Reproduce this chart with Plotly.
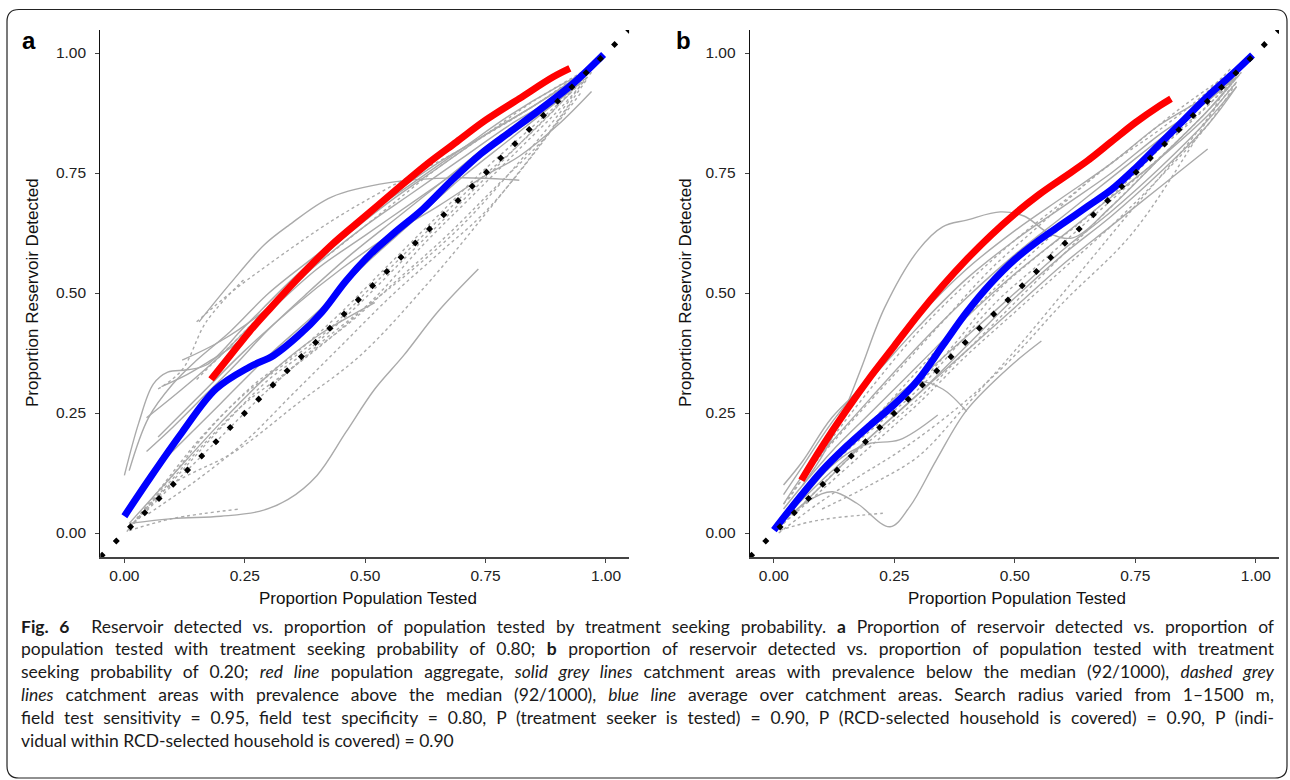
import plotly.graph_objects as go

# ---------------- data ----------------
TICK_VALS = [0.0, 0.25, 0.5, 0.75, 1.0]
TICK_TEXT = ["0.00", "0.25", "0.50", "0.75", "1.00"]
DIAG = [-0.05, 1.05]

# Panel a (treatment seeking probability 0.80)
A_RED_X = [0.18, 0.22, 0.26, 0.30, 0.36, 0.43, 0.50, 0.57, 0.63, 0.69, 0.75, 0.82, 0.89, 0.925]
A_RED_Y = [0.32, 0.37, 0.42, 0.465, 0.53, 0.60, 0.66, 0.72, 0.77, 0.815, 0.86, 0.905, 0.95, 0.968]
A_BLUE_X = [0.0, 0.05, 0.12, 0.19, 0.26, 0.31, 0.36, 0.41, 0.46, 0.51, 0.56, 0.62, 0.68, 0.74, 0.80, 0.86, 0.93, 0.995]
A_BLUE_Y = [0.035, 0.11, 0.21, 0.30, 0.346, 0.37, 0.41, 0.46, 0.525, 0.58, 0.625, 0.675, 0.735, 0.79, 0.835, 0.88, 0.935, 0.997]

A_SOLID = [
    ([0.01, 0.10, 0.20, 0.28, 0.34, 0.40, 0.46, 0.52, 0.58, 0.65, 0.735], [0.02, 0.03, 0.035, 0.045, 0.07, 0.12, 0.21, 0.30, 0.37, 0.46, 0.55]),
    ([0.01, 0.10, 0.20, 0.30, 0.40, 0.52], [0.02, 0.12, 0.23, 0.33, 0.41, 0.48]),
    ([0.0, 0.03, 0.06, 0.09, 0.13, 0.17, 0.25, 0.35, 0.45, 0.55, 0.65, 0.75, 0.85, 0.93], [0.12, 0.23, 0.31, 0.335, 0.34, 0.35, 0.43, 0.53, 0.62, 0.70, 0.77, 0.83, 0.89, 0.94]),
    ([0.01, 0.05, 0.10, 0.15, 0.22, 0.30, 0.40, 0.50, 0.60, 0.70, 0.80, 0.90, 0.96], [0.13, 0.24, 0.31, 0.36, 0.42, 0.50, 0.58, 0.66, 0.73, 0.80, 0.87, 0.93, 0.96]),
    ([0.155, 0.22, 0.29, 0.34, 0.43, 0.55, 0.69, 0.82], [0.44, 0.52, 0.60, 0.64, 0.70, 0.73, 0.74, 0.735]),
    ([0.046, 0.12, 0.20, 0.28, 0.365, 0.45, 0.55, 0.65, 0.75, 0.85, 0.94], [0.24, 0.30, 0.37, 0.45, 0.53, 0.61, 0.69, 0.76, 0.83, 0.89, 0.95]),
    ([0.046, 0.10, 0.17, 0.23, 0.295, 0.38, 0.47, 0.57, 0.67, 0.77, 0.87, 0.95], [0.17, 0.22, 0.29, 0.35, 0.42, 0.50, 0.58, 0.66, 0.74, 0.82, 0.89, 0.95]),
    ([0.077, 0.13, 0.18, 0.226, 0.30, 0.40, 0.50, 0.60, 0.70, 0.80, 0.90, 0.96], [0.305, 0.33, 0.36, 0.39, 0.46, 0.55, 0.62, 0.69, 0.76, 0.83, 0.90, 0.955]),
    ([0.07, 0.15, 0.25, 0.35, 0.45, 0.55, 0.65, 0.75, 0.82, 0.90, 0.97], [0.20, 0.28, 0.38, 0.47, 0.55, 0.62, 0.68, 0.745, 0.785, 0.85, 0.92]),
    ([0.12, 0.20, 0.30, 0.40, 0.50, 0.60, 0.70, 0.80, 0.90, 0.96], [0.36, 0.40, 0.47, 0.56, 0.64, 0.71, 0.78, 0.85, 0.91, 0.955]),
    ([0.06, 0.12, 0.20, 0.30, 0.40, 0.50, 0.60, 0.70, 0.80, 0.90, 0.95], [0.13, 0.19, 0.27, 0.37, 0.46, 0.56, 0.65, 0.74, 0.82, 0.90, 0.94]),
]
A_DASHED = [
    ([0.005, 0.09, 0.23, 0.36, 0.49, 0.63, 0.75, 0.86, 0.96], [0.003, 0.095, 0.17, 0.27, 0.37, 0.52, 0.665, 0.805, 0.945]),
    ([0.01, 0.10, 0.24], [0.005, 0.03, 0.05]),
    ([0.01, 0.08, 0.16, 0.25, 0.33, 0.42, 0.52, 0.62, 0.72, 0.82, 0.91, 0.97], [0.01, 0.09, 0.18, 0.27, 0.33, 0.40, 0.49, 0.60, 0.70, 0.80, 0.89, 0.96]),
    ([0.01, 0.08, 0.16, 0.25, 0.33, 0.42, 0.52, 0.62, 0.72, 0.82, 0.91, 0.97], [0.01, 0.10, 0.20, 0.29, 0.35, 0.42, 0.52, 0.62, 0.72, 0.81, 0.90, 0.97]),
    ([0.02, 0.10, 0.18, 0.27, 0.35, 0.44, 0.54, 0.64, 0.74, 0.84, 0.93], [0.02, 0.12, 0.22, 0.31, 0.37, 0.45, 0.55, 0.65, 0.75, 0.84, 0.92]),
    ([0.02, 0.10, 0.20, 0.30, 0.38, 0.47, 0.57, 0.67, 0.77, 0.87, 0.95], [0.02, 0.10, 0.20, 0.30, 0.37, 0.44, 0.53, 0.62, 0.72, 0.82, 0.92]),
    ([0.03, 0.12, 0.22, 0.30, 0.38, 0.48, 0.58, 0.68, 0.78, 0.88, 0.96], [0.03, 0.13, 0.24, 0.32, 0.38, 0.47, 0.57, 0.67, 0.77, 0.87, 0.95]),
    ([0.05, 0.15, 0.25, 0.35, 0.45, 0.55, 0.65, 0.75, 0.85, 0.93], [0.04, 0.11, 0.19, 0.29, 0.39, 0.49, 0.58, 0.67, 0.79, 0.90]),
    ([0.15, 0.22, 0.30, 0.43, 0.55, 0.70, 0.85, 0.95], [0.44, 0.50, 0.56, 0.65, 0.72, 0.80, 0.89, 0.96]),
    ([0.07, 0.12, 0.17, 0.25], [0.30, 0.34, 0.44, 0.53]),
    ([0.15, 0.25, 0.35, 0.45, 0.55, 0.65, 0.75, 0.85, 0.95], [0.32, 0.42, 0.52, 0.60, 0.68, 0.76, 0.83, 0.90, 0.96]),
    ([0.30, 0.40, 0.50, 0.60, 0.70, 0.80, 0.90, 0.96], [0.30, 0.39, 0.47, 0.55, 0.64, 0.75, 0.87, 0.95]),
]

# Panel b (treatment seeking probability 0.20)
B_RED_X = [0.057, 0.10, 0.15, 0.20, 0.25, 0.30, 0.35, 0.40, 0.45, 0.50, 0.55, 0.60, 0.65, 0.70, 0.75, 0.80, 0.824]
B_RED_Y = [0.11, 0.18, 0.255, 0.325, 0.39, 0.455, 0.515, 0.57, 0.62, 0.665, 0.705, 0.74, 0.775, 0.815, 0.855, 0.89, 0.905]
B_BLUE_X = [0.0, 0.05, 0.10, 0.15, 0.20, 0.25, 0.30, 0.35, 0.40, 0.45, 0.50, 0.55, 0.60, 0.65, 0.70, 0.75, 0.80, 0.85, 0.90, 0.95, 0.993]
B_BLUE_Y = [0.006, 0.07, 0.13, 0.18, 0.225, 0.268, 0.32, 0.39, 0.46, 0.52, 0.57, 0.61, 0.645, 0.68, 0.715, 0.76, 0.81, 0.86, 0.91, 0.955, 0.996]

B_SOLID = [
    ([0.06, 0.10, 0.14, 0.18, 0.23, 0.30, 0.35, 0.40, 0.47, 0.52, 0.57, 0.62, 0.70, 0.80, 0.90, 0.96], [0.10, 0.16, 0.24, 0.34, 0.47, 0.59, 0.638, 0.652, 0.669, 0.66, 0.625, 0.615, 0.68, 0.78, 0.88, 0.95]),
    ([0.006, 0.075, 0.122, 0.172, 0.241, 0.282, 0.337, 0.40, 0.49, 0.555], [0.013, 0.069, 0.086, 0.062, 0.013, 0.055, 0.152, 0.256, 0.347, 0.40]),
    ([0.03, 0.08, 0.12, 0.16, 0.20, 0.26, 0.34], [0.04, 0.10, 0.14, 0.17, 0.187, 0.194, 0.246]),
    ([0.03, 0.10, 0.16, 0.22, 0.26, 0.30, 0.35, 0.40], [0.04, 0.12, 0.19, 0.25, 0.29, 0.315, 0.30, 0.253]),
    ([0.02, 0.10, 0.20, 0.30, 0.40, 0.50, 0.60, 0.70, 0.80, 0.90], [0.03, 0.11, 0.20, 0.29, 0.38, 0.47, 0.56, 0.64, 0.72, 0.80]),
    ([0.02, 0.06, 0.12, 0.20, 0.30, 0.40, 0.50, 0.60, 0.70, 0.80, 0.90, 0.96], [0.06, 0.12, 0.19, 0.28, 0.39, 0.49, 0.58, 0.66, 0.74, 0.82, 0.90, 0.95]),
    ([0.02, 0.06, 0.12, 0.20, 0.30, 0.40, 0.50, 0.60, 0.70, 0.80, 0.90, 0.96], [0.08, 0.14, 0.23, 0.33, 0.45, 0.55, 0.63, 0.70, 0.77, 0.85, 0.91, 0.95]),
    ([0.02, 0.06, 0.12, 0.20, 0.30, 0.40, 0.50, 0.60, 0.70, 0.80, 0.90, 0.96], [0.10, 0.15, 0.24, 0.32, 0.43, 0.53, 0.61, 0.68, 0.75, 0.83, 0.90, 0.96]),
    ([0.02, 0.06, 0.12, 0.20, 0.30, 0.40, 0.50, 0.60, 0.70, 0.80, 0.90, 0.96], [0.05, 0.10, 0.17, 0.25, 0.35, 0.45, 0.54, 0.62, 0.70, 0.78, 0.87, 0.94]),
    ([0.02, 0.06, 0.12, 0.20, 0.30, 0.40, 0.50, 0.60, 0.70, 0.80, 0.90, 0.96], [0.04, 0.09, 0.15, 0.23, 0.32, 0.41, 0.50, 0.59, 0.67, 0.76, 0.86, 0.93]),
    ([0.05, 0.12, 0.20, 0.30, 0.40, 0.50, 0.60, 0.70, 0.80, 0.90, 0.96], [0.05, 0.12, 0.20, 0.29, 0.39, 0.49, 0.58, 0.66, 0.75, 0.85, 0.93]),
]
B_DASHED = [
    ([0.013, 0.07, 0.122, 0.18, 0.226], [0.006, 0.022, 0.031, 0.037, 0.041]),
    ([0.01, 0.09, 0.18, 0.26, 0.38, 0.49, 0.60, 0.74, 0.85, 0.945], [0.0, 0.06, 0.12, 0.17, 0.26, 0.36, 0.48, 0.62, 0.78, 0.94]),
    ([0.10, 0.20, 0.30, 0.39, 0.50, 0.60, 0.74, 0.85, 0.95], [0.05, 0.10, 0.16, 0.256, 0.38, 0.50, 0.67, 0.80, 0.93]),
    ([0.03, 0.10, 0.20, 0.30, 0.40, 0.50, 0.60, 0.70, 0.80, 0.90, 0.95], [0.07, 0.17, 0.30, 0.42, 0.52, 0.61, 0.69, 0.77, 0.84, 0.92, 0.97]),
    ([0.01, 0.08, 0.15, 0.22, 0.30, 0.38, 0.46, 0.55, 0.64, 0.73, 0.82, 0.91, 0.97], [0.01, 0.08, 0.15, 0.21, 0.28, 0.36, 0.44, 0.53, 0.62, 0.71, 0.80, 0.89, 0.96]),
    ([0.01, 0.08, 0.15, 0.22, 0.30, 0.38, 0.46, 0.55, 0.64, 0.73, 0.82, 0.91, 0.97], [0.02, 0.10, 0.17, 0.23, 0.30, 0.39, 0.48, 0.56, 0.64, 0.72, 0.80, 0.89, 0.96]),
    ([0.02, 0.08, 0.15, 0.22, 0.30, 0.38, 0.46, 0.55, 0.64, 0.73, 0.82, 0.91, 0.96], [0.03, 0.11, 0.18, 0.24, 0.31, 0.40, 0.50, 0.58, 0.65, 0.73, 0.82, 0.90, 0.95]),
    ([0.02, 0.10, 0.20, 0.30, 0.40, 0.50, 0.60, 0.70, 0.80, 0.90, 0.96], [0.02, 0.09, 0.18, 0.27, 0.37, 0.46, 0.55, 0.64, 0.74, 0.85, 0.94]),
    ([0.03, 0.10, 0.20, 0.30, 0.40, 0.50, 0.60, 0.70, 0.80, 0.90, 0.97], [0.05, 0.13, 0.23, 0.34, 0.45, 0.55, 0.64, 0.72, 0.80, 0.89, 0.97]),
    ([0.02, 0.08, 0.15, 0.25, 0.35, 0.45, 0.55, 0.65, 0.75, 0.85, 0.95], [0.06, 0.14, 0.22, 0.33, 0.44, 0.55, 0.64, 0.73, 0.81, 0.89, 0.96]),
]

CAPTION = [
    "<b>Fig. 6</b>\u00a0\u00a0Reservoir detected vs. proportion of population tested by treatment seeking probability. <b>a</b> Proportion of reservoir detected vs. proportion of",
    "population tested with treatment seeking probability of 0.80; <b>b</b> proportion of reservoir detected vs. proportion of population tested with treatment",
    "seeking probability of 0.20; <i>red line</i> population aggregate, <i>solid grey lines</i> catchment areas with prevalence below the median (92/1000), <i>dashed grey</i>",
    "<i>lines</i> catchment areas with prevalence above the median (92/1000), <i>blue line</i> average over catchment areas. Search radius varied from 1\u20131500 m,",
    "field test sensitivity = 0.95, field test specificity = 0.80, P (treatment seeker is tested) = 0.90, P (RCD-selected household is covered) = 0.90, P (indi-",
    "vidual within RCD-selected household is covered) = 0.90",
]

# ---------------- figure ----------------
W, H = 1290, 780
GREY = "#aaaaaa"
fig = go.Figure()


def px_x(p):
    return p / W


def px_y(p):
    return 1 - p / H


def add_panel(xa, ya, solid, dashed, rx, ry, bx, by):
    for xs, ys in solid:
        fig.add_trace(go.Scatter(x=xs, y=ys, mode="lines", xaxis=xa, yaxis=ya,
                                 line=dict(color=GREY, width=1.4, shape="spline", smoothing=1.0),
                                 showlegend=False, hoverinfo="skip"))
    for xs, ys in dashed:
        fig.add_trace(go.Scatter(x=xs, y=ys, mode="lines", xaxis=xa, yaxis=ya,
                                 line=dict(color=GREY, width=1.4, dash="3px,3px", shape="spline", smoothing=1.0),
                                 showlegend=False, hoverinfo="skip"))
    fig.add_trace(go.Scatter(x=rx, y=ry, mode="lines", xaxis=xa, yaxis=ya,
                             line=dict(color="#ff0000", width=7, shape="spline", smoothing=1.0),
                             showlegend=False, hoverinfo="skip"))
    fig.add_trace(go.Scatter(x=bx, y=by, mode="lines", xaxis=xa, yaxis=ya,
                             line=dict(color="#0000ff", width=7, shape="spline", smoothing=1.0),
                             showlegend=False, hoverinfo="skip"))
    fig.add_trace(go.Scatter(x=DIAG, y=DIAG, mode="lines", xaxis=xa, yaxis=ya,
                             line=dict(color="#000000", width=5, dash="5px,15.1px"),
                             showlegend=False, hoverinfo="skip"))


add_panel("x", "y", A_SOLID, A_DASHED, A_RED_X, A_RED_Y, A_BLUE_X, A_BLUE_Y)
add_panel("x2", "y2", B_SOLID, B_DASHED, B_RED_X, B_RED_Y, B_BLUE_X, B_BLUE_Y)

TICKFONT = dict(family="Liberation Sans, Arial, sans-serif", size=15.5, color="#222222")
common_x = dict(range=[-0.05, 1.048], tickvals=TICK_VALS, ticktext=TICK_TEXT, showgrid=False,
                zeroline=False, showline=True, linecolor="#444444", linewidth=1.6, ticks="outside",
                ticklen=4, tickwidth=1, tickcolor="#444444", tickfont=TICKFONT)
common_y = dict(range=[-0.05, 1.048], tickvals=TICK_VALS, ticktext=TICK_TEXT, showgrid=False,
                zeroline=False, showline=True, linecolor="#111111", linewidth=1.2, ticks="outside",
                ticklen=4, tickwidth=1, tickcolor="#444444", tickfont=TICKFONT, ticklabelstandoff=6)

YDOM = [(H - 557) / H, (H - 30) / H]
fig.update_layout(
    width=W, height=H, margin=dict(l=0, r=0, t=0, b=0),
    paper_bgcolor="white", plot_bgcolor="white",
    xaxis=dict(domain=[100.3 / W, 629.1 / W], anchor="y", **common_x),
    yaxis=dict(domain=YDOM, anchor="x", **common_y),
    xaxis2=dict(domain=[749.8 / W, 1279.0 / W], anchor="y2", **common_x),
    yaxis2=dict(domain=YDOM, anchor="x2", **common_y),
)

TITLEFONT = dict(family="Liberation Sans, Arial, sans-serif", size=17, color="#111111")
ann = []
for cx, letter, ycx in [(368, "a", 32), (1017, "b", 685)]:
    ann.append(dict(x=px_x(cx), y=px_y(598), xref="paper", yref="paper", text="Proportion Population Tested",
                    showarrow=False, font=TITLEFONT, xanchor="center", yanchor="middle"))
    ann.append(dict(x=px_x(ycx), y=px_y(293), xref="paper", yref="paper", text="Proportion Reservoir Detected",
                    showarrow=False, font=TITLEFONT, textangle=-90, xanchor="center", yanchor="middle"))
ann.append(dict(x=px_x(29), y=px_y(40), xref="paper", yref="paper", text="<b>a</b>", showarrow=False,
                font=dict(family="Liberation Sans, Arial, sans-serif", size=24, color="#000000"),
                xanchor="center", yanchor="middle"))
ann.append(dict(x=px_x(683), y=px_y(40), xref="paper", yref="paper", text="<b>b</b>", showarrow=False,
                font=dict(family="Liberation Sans, Arial, sans-serif", size=24, color="#000000"),
                xanchor="center", yanchor="middle"))
CAP_START = len(ann)
CAPFONT = dict(family="Lato, sans-serif", size=17.5, color="#1a1a1a")
for i, line in enumerate(CAPTION):
    ann.append(dict(x=px_x(19), y=px_y(626 + 22.8 * i), xref="paper", yref="paper", text=line,
                    showarrow=False, font=CAPFONT, xanchor="left", yanchor="middle", align="left"))
fig.update_layout(annotations=ann)

# rounded frame around the whole figure
x0, y0, x1, y1, r = 7, 9.5, 1287, 778, 12
def P(px, py):
    return f"{px_x(px):.5f},{px_y(py):.5f}"
path = (f"M {P(x0 + r, y0)} L {P(x1 - r, y0)} Q {P(x1, y0)} {P(x1, y0 + r)} "
        f"L {P(x1, y1 - r)} Q {P(x1, y1)} {P(x1 - r, y1)} L {P(x0 + r, y1)} "
        f"Q {P(x0, y1)} {P(x0, y1 - r)} L {P(x0, y0 + r)} Q {P(x0, y0)} {P(x0 + r, y0)} Z")
fig.add_shape(type="path", path=path, xref="paper", yref="paper", line=dict(color="#222222", width=1.2),
              layer="above")

# justify the caption lines (all but the last) to the full text width, like the printed figure
JUSTIFY_JS = """
(function(){
  var gd = document.getElementById('{plot_id}');
  var first = %d, last = %d, target = %f;
  function run(){
    var groups = gd.querySelectorAll('g.annotation');
    groups.forEach(function(g){
      var idx = parseInt(g.getAttribute('data-index'));
      if (isNaN(idx) || idx < first || idx > last) return;
      var t = g.querySelector('text.annotation-text');
      if (!t) return;
      var cur = t.getComputedTextLength();
      var n = (t.textContent.match(/[ \\u00a0]/g) || []).length;
      if (n > 0 && cur < target) {
        t.style.wordSpacing = ((target - cur) / n) + 'px';
      }
    });
  }
  run();
})();
""" % (CAP_START, CAP_START + len(CAPTION) - 2, 1253.0)

fig.write_html("out.html", post_script=JUSTIFY_JS)
